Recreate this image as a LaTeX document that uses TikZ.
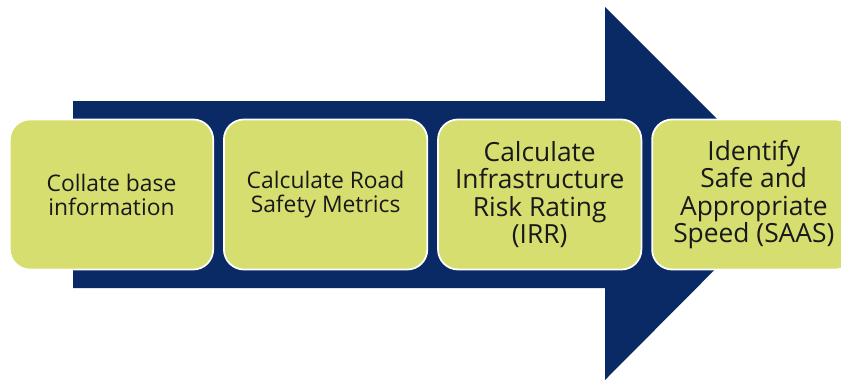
\documentclass[tikz,border=0pt]{standalone}
\usepackage{fontspec}
\setmainfont{Open Sans}
\usetikzlibrary{positioning}
\definecolor{arrownavy}{RGB}{10,42,102}
\definecolor{stepgreen}{RGB}{214,222,112}
\tikzset{
 stepbox/.style={
 rectangle,
 rounded corners=0.6cm,
 draw=white,
 fill=stepgreen,
 line width=1.5pt,
 align=center,
 minimum width=6.1cm,
 minimum height=4.5cm,
 inner sep=2pt,
 text=black!90,
 font=\fontsize{19.5}{20.5}\selectfont
 },
 bigstep/.style={
 stepbox,
 font=\fontsize{22.5}{23.5}\selectfont
 }
}

\begin{document}
\begin{tikzpicture}[x=0.03cm, y=-0.03cm, node distance=0.27cm]
 \useasboundingbox (0,0) rectangle (841,381);
 \clip (0,0) rectangle (841,381);
 % process arrow behind the steps
 \fill[arrownavy] (73,101) -- (605,101) -- (605,7) -- (791,193) -- (605,380) -- (605,288) -- (73,288) -- cycle;
 \node[stepbox] (collate) at (111.5,194.5) {Collate base\\information};
 \node[stepbox, right=of collate] (metrics) {Calculate Road\\Safety Metrics};
 \node[bigstep, right=of metrics] (irr) {Calculate\\Infrastructure\\Risk Rating\\(IRR)};
 \node[bigstep, right=of irr] (saas) {Identify\\Safe and\\Appropriate\\Speed (SAAS)};
\end{tikzpicture}
\end{document}
